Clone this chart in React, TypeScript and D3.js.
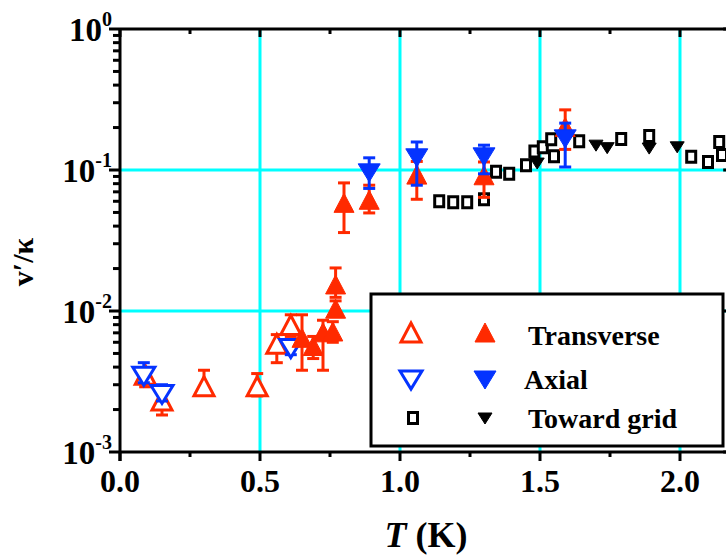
import React from 'react';
import * as d3 from 'd3';

// ---------- data ----------
const xTickValues = [0, 0.5, 1.0, 1.5, 2.0];
const xTickLabels = ['0.0', '0.5', '1.0', '1.5', '2.0'];
const xMinorValues = [0.25, 0.75, 1.25, 1.75];
const yTickValues = [1e-3, 1e-2, 1e-1, 1];
const yTickExponents = ['-3', '-2', '-1', '0'];
const yGridValues = [1e-2, 1e-1];
const xGridValues = [0.5, 1.0, 1.5, 2.0];

// Transverse (open)
const transOpenT = [0.09, 0.15, 0.30, 0.49, 0.56, 0.61];
const transOpenV = [3.5e-3, 2.3e-3, 2.9e-3, 2.9e-3, 5.8e-3, 7.9e-3];
const transOpenLo = [2.9e-3, 1.83e-3, 2.6e-3, 2.5e-3, 4.3e-3, 6.6e-3];
const transOpenHi = [3.9e-3, 2.7e-3, 3.8e-3, 3.6e-3, 6.8e-3, 9.4e-3];

// Transverse (filled)
const transFillT = [0.65, 0.69, 0.725, 0.76, 0.77, 0.77, 0.80, 0.89, 1.06, 1.30, 1.59];
const transFillV = [6.4e-3, 5.6e-3, 7.0e-3, 7.1e-3, 0.0103, 0.0153, 0.058, 0.061, 0.092, 0.091, 0.20];
const transFillLo = [3.8e-3, 4.6e-3, 3.8e-3, 6.0e-3, 0.0092, 0.0125, 0.036, 0.0496, 0.062, 0.064, 0.14];
const transFillHi = [9.4e-3, 6.6e-3, 8.6e-3, 8.4e-3, 0.0118, 0.0202, 0.081, 0.078, 0.115, 0.114, 0.267];

// Axial (open)
const axialOpenT = [0.085, 0.15, 0.61];
const axialOpenV = [3.5e-3, 2.6e-3, 5.5e-3];
const axialOpenLo = [3.1e-3, 2.3e-3, 4.9e-3];
const axialOpenHi = [4.3e-3, 3.0e-3, 6.2e-3];

// Axial (filled)
const axialFillT = [0.89, 1.06, 1.30, 1.59];
const axialFillV = [0.097, 0.124, 0.126, 0.169];
const axialFillLo = [0.074, 0.078, 0.094, 0.105];
const axialFillHi = [0.122, 0.158, 0.15, 0.215];

// Toward grid (open)
const gridOpenT = [1.14, 1.19, 1.24, 1.30, 1.343, 1.39, 1.45, 1.48, 1.51, 1.54, 1.55, 1.64, 1.79, 1.89, 2.04, 2.10, 2.14, 2.15];
const gridOpenV = [0.060, 0.059, 0.059, 0.062, 0.097, 0.094, 0.108, 0.135, 0.145, 0.165, 0.125, 0.16, 0.166, 0.174, 0.124, 0.114, 0.158, 0.128];

// Toward grid (filled)
const gridFillT = [1.49, 1.70, 1.74, 1.89, 1.99];
const gridFillV = [0.112, 0.15, 0.144, 0.143, 0.146];

const legendLabels = ['Transverse', 'Axial', 'Toward grid'];

// ---------- styles ----------
const RED = '#FF2A00';
const BLUE = '#0433FF';
const CYAN = '#00FFFF';
const FONT = '"Liberation Serif", "Times New Roman", serif';

const LEFT = 120;
const TOP = 29;
const BOTTOM = 452;
const X_MAX = 2.19;

const x = d3.scaleLinear().domain([0, X_MAX]).range([LEFT, LEFT + X_MAX * 280]);
const y = d3.scaleLog().domain([1e-3, 1]).range([BOTTOM, TOP]);
const RIGHT = x(X_MAX);

type Shape = 'up' | 'down' | 'square' | 'downSmall';

function shapePath(shape: Shape, cx: number, cy: number): string {
  if (shape === 'up') {
    return `M${cx},${cy - 10}L${cx + 10},${cy + 9}L${cx - 10},${cy + 9}Z`;
  }
  if (shape === 'down') {
    return `M${cx - 11},${cy - 8}L${cx + 11},${cy - 8}L${cx},${cy + 10}Z`;
  }
  if (shape === 'downSmall') {
    return `M${cx - 7},${cy - 5}L${cx + 7},${cy - 5}L${cx},${cy + 6}Z`;
  }
  return `M${cx - 4.5},${cy - 5.5}L${cx + 4.5},${cy - 5.5}L${cx + 4.5},${cy + 5.5}L${cx - 4.5},${cy + 5.5}Z`;
}

function Marker({ shape, cx, cy, color, filled }: { shape: Shape; cx: number; cy: number; color: string; filled: boolean }) {
  return (
    <path
      d={shapePath(shape, cx, cy)}
      fill={filled ? color : 'white'}
      stroke={color}
      strokeWidth={filled ? 1 : 3}
      strokeLinejoin="miter"
    />
  );
}

function ErrorBar({ cx, lo, hi, color }: { cx: number; lo: number; hi: number; color: string }) {
  const y1 = y(hi);
  const y2 = y(lo);
  return (
    <g stroke={color} strokeWidth={3} fill="none">
      <line x1={cx} x2={cx} y1={y1} y2={y2} />
      <line x1={cx - 6} x2={cx + 6} y1={y1} y2={y1} />
      <line x1={cx - 6} x2={cx + 6} y1={y2} y2={y2} />
    </g>
  );
}

function Series({ T, V, lo, hi, shape, color, filled }: { T: number[]; V: number[]; lo?: number[]; hi?: number[]; shape: Shape; color: string; filled: boolean }) {
  return (
    <g>
      {lo && hi && T.map((t, i) => <ErrorBar key={'e' + i} cx={x(t)} lo={lo[i]} hi={hi[i]} color={color} />)}
      {T.map((t, i) => <Marker key={'m' + i} shape={shape} cx={x(t)} cy={y(V[i])} color={color} filled={filled} />)}
    </g>
  );
}

export default function App() {
  const yMinor: number[] = [];
  for (let e = -3; e < 0; e++) {
    for (let k = 2; k <= 9; k++) yMinor.push(k * Math.pow(10, e));
  }
  return (
    <svg width={726} height={557} style={{ position: 'absolute', left: 0, top: 0, background: 'white' }}>
      <rect x={0} y={0} width={726} height={557} fill="white" />
      {/* gridlines */}
      <g stroke={CYAN} strokeWidth={3}>
        {xGridValues.map((v) => <line key={'gx' + v} x1={x(v)} x2={x(v)} y1={TOP} y2={BOTTOM} />)}
        {yGridValues.map((v) => <line key={'gy' + v} x1={LEFT} x2={RIGHT} y1={y(v)} y2={y(v)} />)}
      </g>

      {/* data */}
      <Series T={transOpenT} V={transOpenV} lo={transOpenLo} hi={transOpenHi} shape="up" color={RED} filled={false} />
      <Series T={axialOpenT} V={axialOpenV} lo={axialOpenLo} hi={axialOpenHi} shape="down" color={BLUE} filled={false} />
      <Series T={gridOpenT} V={gridOpenV} shape="square" color="black" filled={false} />
      <Series T={gridFillT} V={gridFillV} shape="downSmall" color="black" filled={true} />
      <Series T={transFillT} V={transFillV} lo={transFillLo} hi={transFillHi} shape="up" color={RED} filled={true} />
      <Series T={axialFillT} V={axialFillV} lo={axialFillLo} hi={axialFillHi} shape="down" color={BLUE} filled={true} />

      {/* axes frame */}
      <g stroke="black" strokeWidth={3} fill="none">
        <line x1={LEFT} x2={RIGHT} y1={TOP} y2={TOP} />
        <line x1={LEFT} x2={RIGHT} y1={BOTTOM} y2={BOTTOM} />
        <line x1={LEFT} x2={LEFT} y1={TOP} y2={BOTTOM + 9} />
        <line x1={RIGHT} x2={RIGHT} y1={TOP} y2={BOTTOM} />
        {xTickValues.map((v) => (
          <g key={'xt' + v}>
            <line x1={x(v)} x2={x(v)} y1={BOTTOM} y2={BOTTOM + 9} />
            <line x1={x(v)} x2={x(v)} y1={TOP} y2={TOP + 8} />
          </g>
        ))}
        {xMinorValues.map((v) => (
          <g key={'xm' + v}>
            <line x1={x(v)} x2={x(v)} y1={BOTTOM} y2={BOTTOM + 5} />
            <line x1={x(v)} x2={x(v)} y1={TOP} y2={TOP + 5} />
          </g>
        ))}
        {yTickValues.map((v) => (
          <g key={'yt' + v}>
            <line x1={LEFT - 11} x2={LEFT} y1={y(v)} y2={y(v)} />
            <line x1={RIGHT - 10} x2={RIGHT} y1={y(v)} y2={y(v)} />
          </g>
        ))}
        {yMinor.map((v) => (
          <g key={'ym' + v}>
            <line x1={LEFT - 7} x2={LEFT} y1={y(v)} y2={y(v)} />
            <line x1={RIGHT - 6} x2={RIGHT} y1={y(v)} y2={y(v)} />
          </g>
        ))}
      </g>

      {/* tick labels */}
      <g fontFamily={FONT} fontWeight="bold" fill="black">
        {xTickValues.map((v, i) => (
          <text key={'xl' + v} x={x(v)} y={492} textAnchor="middle" fontSize={32}>{xTickLabels[i]}</text>
        ))}
        {yTickValues.map((v, i) => (
          <text key={'yl' + v} x={112} y={y(v) + 12} textAnchor="end" fontSize={33}>
            10<tspan dy={-15} fontSize={20}>{yTickExponents[i]}</tspan>
          </text>
        ))}
      </g>

      {/* axis titles */}
      <text x={426} y={547} textAnchor="middle" fontFamily={FONT} fontWeight="bold" fontSize={36} fill="black">
        <tspan fontStyle="italic">T</tspan> (K)
      </text>
      <text transform="translate(33,262) rotate(-90)" textAnchor="middle" fontFamily={FONT} fontWeight="bold" fontSize={30} fill="black">
        v′/κ
      </text>

      {/* legend */}
      <rect x={371} y={294} width={352} height={152} fill="white" stroke="black" strokeWidth={3} />
      <Marker shape="up" cx={411} cy={333} color={RED} filled={false} />
      <Marker shape="up" cx={485} cy={333} color={RED} filled={true} />
      <Marker shape="down" cx={411} cy={379} color={BLUE} filled={false} />
      <Marker shape="down" cx={485} cy={379} color={BLUE} filled={true} />
      <Marker shape="square" cx={413} cy={418} color="black" filled={false} />
      <Marker shape="downSmall" cx={485} cy={418} color="black" filled={true} />
      <g fontFamily={FONT} fontWeight="bold" fontSize={28} fill="black">
        <text x={528} y={345}>{legendLabels[0]}</text>
        <text x={524} y={389}>{legendLabels[1]}</text>
        <text x={528} y={428}>{legendLabels[2]}</text>
      </g>
    </svg>
  );
}
